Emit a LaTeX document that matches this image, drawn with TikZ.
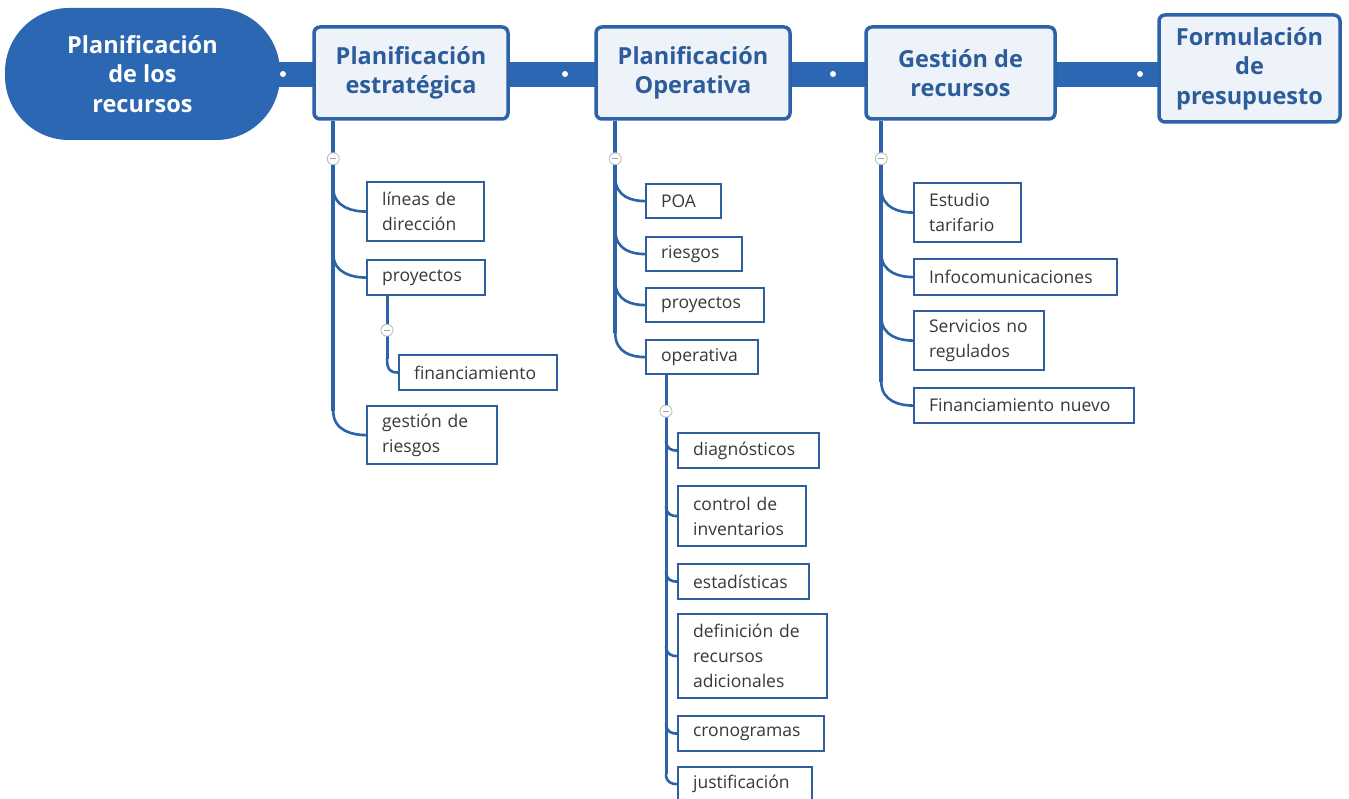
\documentclass[tikz,border=0pt]{standalone}
\usepackage{fontspec}
\setmainfont{Open Sans}
\usetikzlibrary{calc}
\definecolor{rootblue}{HTML}{2B67B2}
\definecolor{lineblue}{HTML}{2E62A8}
\definecolor{boxfill}{HTML}{EEF3FA}
\definecolor{titletext}{HTML}{2C5C9A}
\definecolor{childtext}{HTML}{383838}
\definecolor{childborder}{HTML}{2F5E9E}
\newcommand\topfont{\fontsize{23.5}{29.5}\selectfont\bfseries}
\newcommand\kidfont{\fontsize{17.5}{25}\selectfont}
\newcommand\branch[3]{\draw[conn] ($(#1|-#2.west)+(0,-#3)$) .. controls ($(#1|-#2.west)+(0,-0.15*#3)$) and ($(#2.west)+(-0.5*#3,0)$) .. (#2.west);}
\newcommand\collapse[1]{\node[collapser] at (#1) {}; \draw[gray!70, line width=0.8pt] ($(#1)+(-3,0)$) -- ($(#1)+(3,0)$);}
\begin{document}
\begin{tikzpicture}[x=1pt,y=-1pt,
  topbox/.style={draw=lineblue, line width=3.5pt, fill=boxfill, rounded corners=6pt, align=center, font=\topfont, text=titletext, inner sep=0pt},
  kid/.style 2 args={draw=childborder, line width=2.2pt, fill=white, anchor=north west, align=left, font=\kidfont, text=childtext, inner xsep=15pt, inner ysep=0pt, text width=#1, minimum height=#2},
  vline/.style={draw=lineblue, line width=4pt},
  conn/.style={draw=lineblue, line width=2.6pt},
  collapser/.style={circle, draw=gray!55, fill=white, line width=0.8pt, minimum size=12pt, inner sep=0pt},
  dot/.style={circle, fill=white, minimum size=6pt, inner sep=0pt}]
\useasboundingbox (0,0) rectangle (1349,799);
\fill[white] (0,0) rectangle (1349,799);

% main bar
\coordinate (barL) at (140,74.5);
\coordinate (barR) at (1200,74.5);
\draw[rootblue, line width=25pt] (barL) -- (barR);

% root
\node[fill=rootblue, rounded corners=64pt, minimum width=275pt, minimum height=132pt, align=center, text=white, font=\topfont, inner sep=0pt] (root) at (142.5,74) {Planificación\\de los\\recursos};

% top boxes
\node[topbox, minimum width=194pt, minimum height=92pt] (b1) at (411,73) {Planificación\\estratégica};
\node[topbox, minimum width=194pt, minimum height=92pt] (b2) at (693,73) {Planificación\\Operativa};
\node[topbox, minimum width=189pt, minimum height=92pt] (b3) at (960.5,73) {Gestión de\\recursos};
\node[topbox, minimum width=181pt, minimum height=107pt] (b4) at (1249.5,68.5) {Formulación\\de\\presupuesto};

% dots
\node[dot] (d1) at (283,74) {};
\node[dot] (d2) at (565,74) {};
\node[dot] (d3) at (833,74) {};
\node[dot] (d4) at (1140,74) {};

% ---- children of b1
\node[kid={87pt}{59pt}] (l1) at (366,181) {líneas de\\dirección};
\node[kid={88pt}{35pt}] (p1) at (366,259) {proyectos};
\node[kid={128pt}{35pt}] (f1) at (398,354) {financiamiento};
\node[kid={100pt}{58pt}] (g1) at (366,405) {gestión de\\riesgos};

% ---- children of b2
\node[kid={45pt}{34pt}] (poa) at (645,183) {POA};
\node[kid={66pt}{34pt}] (rie) at (645,236) {riesgos};
\node[kid={88pt}{34pt}] (pro) at (645,287) {proyectos};
\node[kid={82pt}{34pt}] (ope) at (645,339) {operativa};

\node[kid={111pt}{35pt}] (dia) at (677,432) {diagnósticos};
\node[kid={98pt}{60pt}] (con) at (677,485) {control de\\inventarios};
\node[kid={101pt}{35pt}] (est) at (677,563) {estadísticas};
\node[kid={119pt}{84pt}] (def) at (677,613) {definición de\\recursos\\adicionales};
\node[kid={116pt}{35pt}] (cro) at (677,715) {cronogramas};
\node[kid={104pt}{34pt}] (jus) at (677,766) {justificación};

% ---- children of b3
\node[kid={77pt}{59pt}] (etu) at (913,182) {Estudio\\tarifario};
\node[kid={173pt}{36pt}] (inf) at (913,258) {Infocomunicaciones};
\node[kid={100pt}{59pt}] (ser) at (913,310) {Servicios no\\regulados};
\node[kid={190pt}{35pt}] (fin) at (913,387) {Financiamiento nuevo};

% ---- connectors b1
\coordinate (v1) at ([xshift=21pt]b1.south west);
\draw[vline] (v1) -- ($(v1|-g1.west)+(0,-24)$);
\branch{v1}{l1}{24}
\branch{v1}{p1}{24}
\branch{v1}{g1}{24}
\coordinate (v1b) at ([xshift=21pt]p1.south west);
\draw[vline, line width=3pt] (v1b) -- ($(v1b|-f1.west)+(0,-14)$);
\branch{v1b}{f1}{14}
\collapse{$(v1)+(0,38)$}
\collapse{$(v1b)+(0,34)$}

% ---- connectors b2
\coordinate (v2) at ([xshift=21pt]b2.south west);
\draw[vline] (v2) -- ($(v2|-ope.west)+(0,-24)$);
\branch{v2}{poa}{24}
\branch{v2}{rie}{24}
\branch{v2}{pro}{24}
\branch{v2}{ope}{24}
\coordinate (v2b) at ([xshift=21pt]ope.south west);
\draw[vline, line width=3pt] (v2b) -- ($(v2b|-jus.west)+(0,-10)$);
\branch{v2b}{dia}{10}
\branch{v2b}{con}{10}
\branch{v2b}{est}{10}
\branch{v2b}{def}{10}
\branch{v2b}{cro}{10}
\branch{v2b}{jus}{10}
\collapse{$(v2)+(0,38)$}
\collapse{$(v2b)+(0,36)$}

% ---- connectors b3
\coordinate (v3) at ([xshift=17pt]b3.south west);
\draw[vline] (v3) -- ($(v3|-fin.west)+(0,-24)$);
\branch{v3}{etu}{24}
\branch{v3}{inf}{24}
\branch{v3}{ser}{24}
\branch{v3}{fin}{24}
\collapse{$(v3)+(0,38)$}
\end{tikzpicture}
\end{document}
